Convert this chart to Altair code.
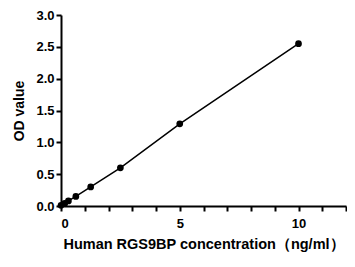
import altair as alt
import pandas as pd

conc = [0, 0.156, 0.3125, 0.625, 1.25, 2.5, 5, 10]
od = [0.01, 0.04, 0.08, 0.15, 0.30, 0.60, 1.29, 2.55]
x_ticks = list(range(0, 13))
y_ticks = [0, 0.5, 1.0, 1.5, 2.0, 2.5, 3.0]

df = pd.DataFrame({"conc": conc, "od": od})

x = alt.X("conc:Q", scale=alt.Scale(domain=[0, 12], nice=False),
          axis=alt.Axis(title="Human RGS9BP concentration（ng/ml）", values=x_ticks,
                        labelExpr="datum.value % 5 == 0 ? datum.label : ''",
                        grid=False, domainColor="black", domainWidth=2,
                        tickColor="black", tickWidth=2, tickSize=5,
                        labelFont="Liberation Sans", labelFontWeight="bold", labelFontSize=13,
                        labelColor="black", labelPadding=6,
                        titleFont="Liberation Sans", titleFontWeight="bold", titleFontSize=14.5,
                        titleColor="black", titlePadding=7))
y = alt.Y("od:Q", scale=alt.Scale(domain=[0, 3], nice=False),
          axis=alt.Axis(title="OD value", values=y_ticks, format=".1f",
                        grid=False, domainColor="black", domainWidth=2,
                        tickColor="black", tickWidth=2, tickSize=5,
                        labelFont="Liberation Sans", labelFontWeight="bold", labelFontSize=13,
                        labelColor="black", labelPadding=2,
                        titleFont="Liberation Sans", titleFontWeight="bold", titleFontSize=14,
                        titleColor="black", titlePadding=9))

line = alt.Chart(df).mark_line(color="black", strokeWidth=1.5).encode(x=x, y=y)
pts = alt.Chart(df).mark_circle(color="black", size=45, opacity=1).encode(x=x, y=y)

chart = (line + pts).properties(
    width=285, height=191,
    autosize=alt.AutoSizeParams(type="none"),
    padding={"left": 53, "top": 7, "right": 1, "bottom": 50},
).configure_view(stroke=None)

chart.save("out.html", embed_options={"renderer": "svg", "actions": False})
